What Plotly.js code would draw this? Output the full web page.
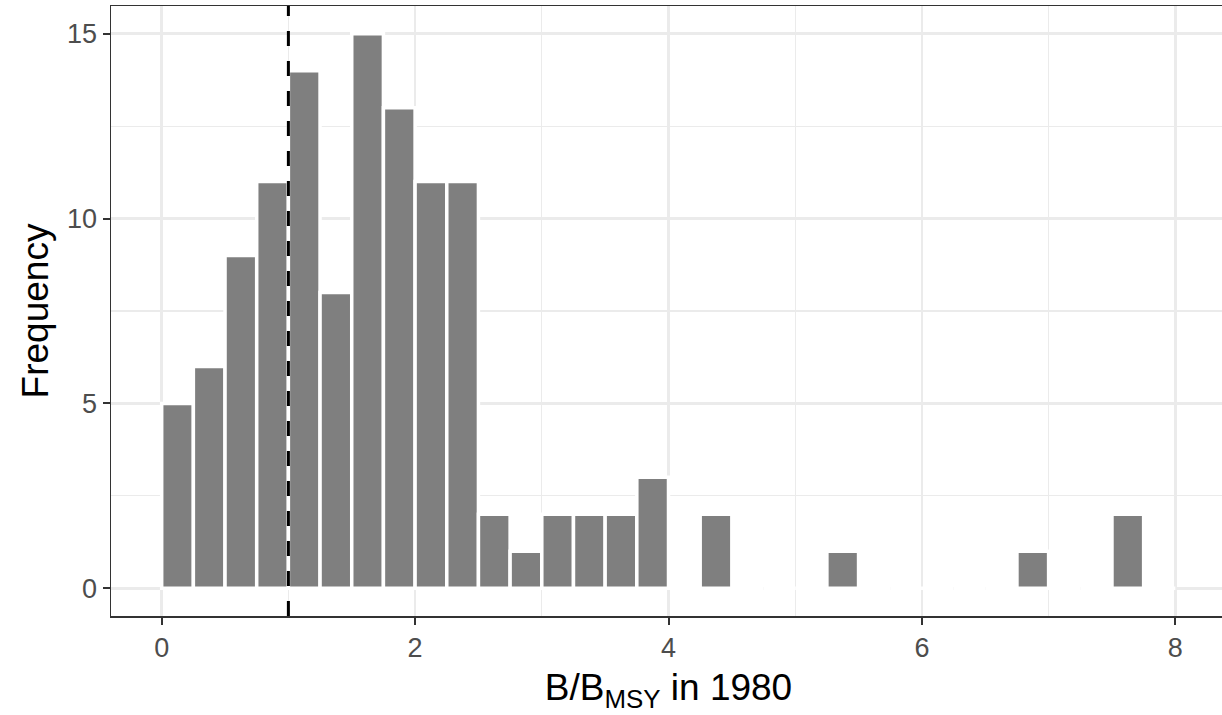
<!DOCTYPE html>
<html>
<head>
<meta charset="utf-8">
<script src="https://cdn.plot.ly/plotly-3.0.1.min.js"></script>
<style>
html, body { margin: 0; padding: 0; overflow: hidden; background: #fff; }
#chart { width: 1228px; height: 715px; }
</style>
</head>
<body>
<div id="chart"></div>
<script>
// Histogram bins (B/BMSY in 1980), bin width 0.25 from 0 to 8
const binStarts = [0, 0.25, 0.5, 0.75, 1, 1.25, 1.5, 1.75, 2, 2.25, 2.5, 2.75, 3, 3.25, 3.5, 3.75,
                   4, 4.25, 4.5, 4.75, 5, 5.25, 5.5, 5.75, 6, 6.25, 6.5, 6.75, 7, 7.25, 7.5, 7.75];
const counts    = [5, 6, 9, 11, 14, 8, 15, 13, 11, 11, 2, 1, 2, 2, 2, 3,
                   0, 2, 0, 0, 0, 1, 0, 0, 0, 0, 0, 1, 0, 0, 2, 0];
const binWidth = 0.25;
const refLine = 1;
const xTicks = [0, 2, 4, 6, 8];
const yTicks = [0, 5, 10, 15];

const centers = binStarts.map(s => s + binWidth / 2);

const trace = {
  type: 'bar',
  x: centers,
  y: counts,
  width: binWidth,
  marker: { color: '#7f7f7f', line: { color: '#ffffff', width: 3.5 } },
  hoverinfo: 'x+y'
};

const FONT = 'Liberation Sans, Arial, sans-serif';

const axisCommon = {
  showline: true,
  linecolor: '#333333',
  linewidth: 1.5,
  mirror: true,
  ticks: 'outside',
  ticklen: 7,
  tickwidth: 2,
  tickcolor: '#333333',
  showgrid: true,
  gridcolor: '#ebebeb',
  gridwidth: 2.5,
  zeroline: false,
  tickfont: { family: FONT, size: 27, color: '#4d4d4d' }
};

const layout = {
  width: 1228,
  height: 715,
  margin: { l: 111, r: 2, t: 6, b: 99 },
  paper_bgcolor: '#ffffff',
  plot_bgcolor: '#ffffff',
  showlegend: false,
  bargap: 0,
  xaxis: Object.assign({}, axisCommon, {
    range: [-0.4, 8.4],
    tickvals: xTicks,
    ticktext: xTicks.map(String),
    minor: { dtick: 1, tick0: 0, showgrid: true, gridcolor: '#ebebeb', gridwidth: 1.2, ticks: '' },
    title: { text: 'B/B<sub>MSY</sub> in 1980', font: { family: FONT, size: 37, color: '#000000' }, standoff: 12 }
  }),
  yaxis: Object.assign({}, axisCommon, {
    range: [-0.75, 15.75],
    tickvals: yTicks,
    ticktext: yTicks.map(String),
    minor: { dtick: 2.5, tick0: 0, showgrid: true, gridcolor: '#ebebeb', gridwidth: 1.2, ticks: '' },
    title: { text: 'Frequency', font: { family: FONT, size: 37, color: '#000000' }, standoff: 7 }
  }),
  shapes: [{
    type: 'line', xref: 'x', yref: 'paper',
    x0: refLine, x1: refLine, y0: 0, y1: 1,
    line: { color: '#000000', width: 3, dash: '15px,15px' },
    layer: 'above'
  }]
};

Plotly.newPlot('chart', [trace], layout, { displayModeBar: false, staticPlot: true });
</script>
</body>
</html>
